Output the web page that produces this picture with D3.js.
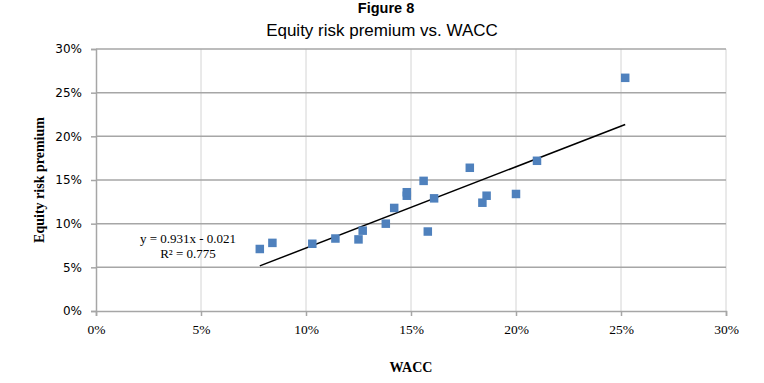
<!DOCTYPE html>
<html>
<head>
<meta charset="utf-8">
<script src="https://cdn.jsdelivr.net/npm/d3@7"></script>
<style>
  body { margin: 0; background: #fff; }
</style>
</head>
<body>
<div id="chart"></div>
<script>
// values, in percent
const wacc = [7.8, 8.4, 10.3, 11.4, 12.5, 12.7, 13.8, 14.2, 14.8, 14.8, 15.6, 15.8, 16.1, 17.8, 18.4, 18.6, 20.0, 21.0, 25.2];
const erp  = [7.1, 7.8, 7.7, 8.3, 8.2, 9.2, 10.0, 11.8, 13.2, 13.6, 14.9, 9.1, 12.9, 16.4, 12.4, 13.2, 13.4, 17.2, 26.7];
const xTicks = [0, 5, 10, 15, 20, 25, 30];
const yTicks = [0, 5, 10, 15, 20, 25, 30];
const slope = 0.931, intercept = -0.021;
const eqLines = ["y = 0.931x - 0.021", "R\u00b2 = 0.775"];

const width = 764, height = 383;
const margin = {top: 49, right: 38, bottom: 72, left: 96};
const serif = "'Liberation Serif', 'Times New Roman', serif";

const svg = d3.select("#chart").append("svg")
  .attr("width", width)
  .attr("height", height);

const x = d3.scaleLinear().domain([0, 30]).range([margin.left, width - margin.right]);
const y = d3.scaleLinear().domain([0, 30]).range([height - margin.bottom, margin.top]);

// grid
svg.append("g").selectAll("line")
  .data(xTicks.slice(1))
  .join("line")
  .attr("x1", d => x(d)).attr("x2", d => x(d))
  .attr("y1", y(30)).attr("y2", y(0))
  .attr("stroke", "#d4d4d4").attr("stroke-width", 1);

svg.append("g").selectAll("line")
  .data(yTicks.slice(1))
  .join("line")
  .attr("x1", x(0)).attr("x2", x(30))
  .attr("y1", d => y(d)).attr("y2", d => y(d))
  .attr("stroke", "#a6a6a6").attr("stroke-width", 1.5);

// axes
svg.append("g")
  .attr("transform", `translate(0,${y(0)})`)
  .call(d3.axisBottom(x).tickValues(xTicks).tickFormat(d => d + "%").tickSize(5).tickPadding(8))
  .selectAll("text")
  .style("font-family", serif)
  .style("font-size", "13.5px")
  .attr("fill", "#000");

svg.append("g")
  .attr("transform", `translate(${x(0)},0)`)
  .call(d3.axisLeft(y).tickValues(yTicks).tickFormat(d => d + "%").tickSize(5).tickPadding(9))
  .selectAll("text")
  .style("font-family", "'DejaVu Sans', sans-serif")
  .style("font-size", "12px")
  .attr("fill", "#000");

svg.selectAll(".domain").attr("stroke", "#a6a6a6").attr("stroke-width", 1.5);
svg.selectAll(".tick line").attr("stroke", "#a6a6a6").attr("stroke-width", 1.5);

// trendline from fitted equation
const x0 = d3.min(wacc), x1 = d3.max(wacc);
svg.append("line")
  .attr("x1", x(x0)).attr("y1", y((slope * x0 / 100 + intercept) * 100))
  .attr("x2", x(x1)).attr("y2", y((slope * x1 / 100 + intercept) * 100))
  .attr("stroke", "#000").attr("stroke-width", 1.5);

// points
const pts = wacc.map((d, i) => ({x: d, y: erp[i]}));
const s = 8.5;
svg.append("g").selectAll("rect")
  .data(pts)
  .join("rect")
  .attr("x", d => x(d.x) - s / 2)
  .attr("y", d => y(d.y) - s / 2)
  .attr("width", s).attr("height", s)
  .attr("fill", "#4f81bd");

// equation label
svg.append("text")
  .attr("x", 188).attr("y", 243)
  .attr("text-anchor", "middle")
  .attr("font-family", serif)
  .attr("font-size", 13)
  .selectAll("tspan")
  .data(eqLines)
  .join("tspan")
  .attr("x", 188)
  .attr("dy", (d, i) => i ? 15 : 0)
  .text(d => d);

// titles
svg.append("text")
  .attr("x", 386).attr("y", 13)
  .attr("text-anchor", "middle")
  .attr("font-family", "'Liberation Sans', Arial, sans-serif")
  .attr("font-weight", "bold").attr("font-size", 14.5)
  .text("Figure 8");

svg.append("text")
  .attr("x", 382).attr("y", 36)
  .attr("text-anchor", "middle")
  .attr("font-family", "'Liberation Sans', Arial, sans-serif")
  .attr("font-size", 17)
  .text("Equity risk premium vs. WACC");

svg.append("text")
  .attr("x", 411).attr("y", 372)
  .attr("text-anchor", "middle")
  .attr("font-family", serif)
  .attr("font-weight", "bold").attr("font-size", 14)
  .text("WACC");

svg.append("text")
  .attr("transform", `translate(44,${y(15)}) rotate(-90)`)
  .attr("text-anchor", "middle")
  .attr("font-family", serif)
  .attr("font-weight", "bold").attr("font-size", 14)
  .text("Equity risk premium");
</script>
</body>
</html>
